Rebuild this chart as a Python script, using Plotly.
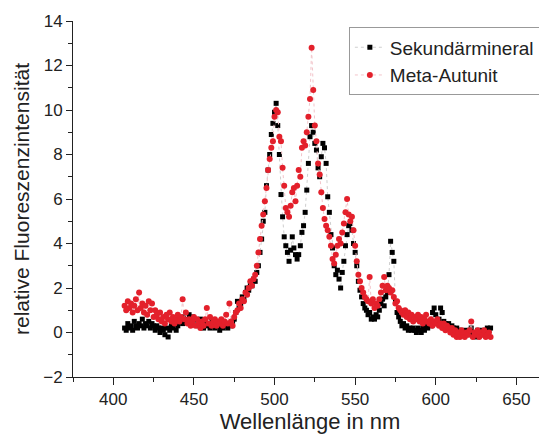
import plotly.graph_objects as go

# Wavelength grid (nm)
wavelength = [
    407, 408, 409, 410, 411, 412, 413, 414, 415, 416,
    417, 418, 419, 420, 421, 422, 423, 424, 425, 426,
    427, 428, 429, 430, 431, 432, 433, 434, 435, 436,
    437, 438, 439, 440, 441, 442, 443, 444, 445, 446,
    447, 448, 449, 450, 451, 452, 453, 454, 455, 456,
    457, 458, 459, 460, 461, 462, 463, 464, 465, 466,
    467, 468, 469, 470, 471, 472, 473, 474, 475, 476,
    477, 478, 479, 480, 481, 482, 483, 484, 485, 486,
    487, 488, 489, 490, 491, 492, 493, 494, 495, 496,
    497, 498, 499, 500, 501, 502, 503, 504, 505, 506,
    507, 508, 509, 510, 511, 512, 513, 514, 515, 516,
    517, 518, 519, 520, 521, 522, 523, 524, 525, 526,
    527, 528, 529, 530, 531, 532, 533, 534, 535, 536,
    537, 538, 539, 540, 541, 542, 543, 544, 545, 546,
    547, 548, 549, 550, 551, 552, 553, 554, 555, 556,
    557, 558, 559, 560, 561, 562, 563, 564, 565, 566,
    567, 568, 569, 570, 571, 572, 573, 574, 575, 576,
    577, 578, 579, 580, 581, 582, 583, 584, 585, 586,
    587, 588, 589, 590, 591, 592, 593, 594, 595, 596,
    597, 598, 599, 600, 601, 602, 603, 604, 605, 606,
    607, 608, 609, 610, 611, 612, 613, 614, 615, 616,
    617, 618, 619, 620, 621, 622, 623, 624, 625, 626,
    627, 628, 629, 630, 631, 632, 633, 634,
]

sekundaermineral = [
    0.2, 0.1, 0.4, 0.2, 0.3, 0.1, 0.5, 0.3, 0.2, 0.4,
    0.3, 0.6, 0.2, 0.4, 0.3, 0.5, 0.2, 0.4, 0.3, 0.1,
    0.3, 0.2, 0.0, 0.2, 0.1, -0.1, 0.2, -0.2, 0.1, 0.3,
    0.2, 0.4, 0.1, 0.3, 0.5, 0.6, 0.4, 0.7, 0.5, 0.6,
    0.8, 0.5, 0.7, 0.6, 0.4, 0.5, 0.3, 0.6, 0.4, 0.2,
    0.5, 0.3, 0.4, 0.2, 0.5, 0.3, 0.2, 0.4, 0.3, 0.1,
    0.3, 0.2, 0.4, 0.3, 0.2, 0.4, 0.3, 0.5, 0.6, 0.9,
    1.4, 1.1, 1.3, 1.6, 1.5, 1.8, 2.0, 1.9, 2.2, 2.1,
    2.4, 2.3, 2.7, 3.0, 3.6, 4.2, 5.0, 5.4, 6.6, 7.3,
    8.0, 8.9, 9.4, 9.9, 10.3, 9.3, 8.0, 6.2, 5.2, 4.3,
    3.9, 3.6, 3.2, 3.7, 4.3, 3.8, 3.5, 3.3, 3.5, 3.9,
    4.5, 4.8, 5.4, 6.4, 7.6, 8.8, 9.3, 9.0, 8.5, 8.2,
    7.4, 7.0, 7.9, 8.5, 8.3, 7.6, 6.1, 5.4, 4.4, 3.8,
    3.0, 2.6, 2.8, 2.4, 2.0, 2.7, 3.2, 3.9, 4.4, 4.8,
    4.9, 4.6, 4.0, 3.6, 3.0, 2.3, 1.9, 1.6, 1.3, 1.1,
    1.0, 0.8, 0.9, 0.6, 0.7, 0.6, 0.8, 0.7, 1.0, 1.3,
    1.5, 1.2, 1.6, 1.8, 2.6, 4.1, 3.6, 3.2, 1.4, 0.9,
    0.7, 0.5, 0.3, 0.4, 0.2, 0.3, 0.1, 0.2, 0.1, 0.2,
    0.1, 0.0, 0.2, 0.1, 0.0, 0.2, 0.1, 0.3, 0.2, 0.4,
    0.3, 0.9, 1.1, 0.8, 0.5, 0.6, 1.1, 0.9, 0.5, 0.4,
    0.3, 0.4, 0.2, 0.3, 0.2, 0.1, 0.2, 0.1, 0.0, 0.1,
    -0.1, 0.0, 0.1, -0.1, 0.0, 0.2, -0.1, 0.0, -0.2, 0.1,
    0.0, -0.1, 0.1, 0.0, -0.1, 0.2, 0.1, 0.2,
]

meta_autunit = [
    1.2, 1.0, 1.4, 1.1, 1.3, 0.9, 1.2, 1.5, 1.0, 1.8,
    1.1, 1.3, 0.9, 1.2, 0.8, 1.4, 1.0, 1.3, 0.7, 1.0,
    0.8, 0.6, 0.9, 0.5, 0.7, 0.4, 0.8, 0.6, 0.9, 0.5,
    0.7, 0.4, 0.6, 0.8, 0.5, 0.7, 1.5, 0.6, 0.9, 0.4,
    0.6, 0.3, 0.5, 0.7, 0.3, 0.6, 0.4, 0.2, 0.5, 0.3,
    0.6, 1.1, 0.4, 0.7, 0.3, 0.5, 0.6, 0.3, 0.5, 0.4,
    0.6, 0.3, 0.5, 0.8, 0.4, 1.3, 0.5, 0.3, 0.7, 0.9,
    1.0, 1.3, 1.1, 1.5, 1.4, 1.8, 1.7, 2.0, 2.3, 2.1,
    2.4, 2.6, 3.0, 3.6, 4.2, 4.8, 5.3, 5.9, 6.5, 7.3,
    7.8, 8.3, 8.6, 9.7, 10.0, 9.9, 8.8, 8.6, 7.4, 6.6,
    5.6, 5.4, 5.2, 5.7, 6.3, 6.5, 5.9, 6.6, 7.3, 7.0,
    8.3, 8.6, 8.4, 9.0, 9.7, 10.5, 12.8, 10.9, 9.3, 8.6,
    7.6, 7.1, 6.3, 5.6, 5.1, 4.8, 4.6, 4.3, 3.9, 3.3,
    3.1, 3.5, 3.9, 4.2, 4.0, 4.5, 4.9, 5.4, 6.0, 5.3,
    5.0, 5.2, 4.6, 3.9, 3.2, 2.6, 2.3, 2.0, 1.8, 1.6,
    1.5, 1.4, 2.5, 1.3, 1.5, 1.1, 1.3, 1.2, 1.5, 1.8,
    2.1, 2.5, 1.9, 2.1, 2.0, 1.8, 1.9, 1.6, 1.3, 1.4,
    1.1, 1.0, 0.9, 0.8, 1.0, 0.7, 0.9, 0.6, 0.8, 0.5,
    0.7, 0.6, 0.8, 0.5, 0.7, 0.4, 0.6, 0.8, 0.5, 0.4,
    0.6, 0.3, 0.5, 0.4, 0.6, 0.3, 0.4, 0.2, 0.4, 0.1,
    0.3, 0.2, 0.0, 0.2, -0.1, 0.1, -0.2, 0.0, -0.2, 0.1,
    -0.1, -0.2, 0.0, -0.1, 0.1, 0.5, -0.2, 0.0, -0.1, 0.1,
    -0.2, 0.0, -0.1, 0.1, -0.2, -0.1, 0.0, -0.2,
]

FONT = "Liberation Sans, Arial, sans-serif"

fig = go.Figure()
fig.add_trace(go.Scatter(
    x=wavelength, y=sekundaermineral, name="Sekundärmineral",
    mode="lines+markers",
    line=dict(color="#cfcfcf", width=1, dash="dot"),
    marker=dict(symbol="square", size=5, color="#000000"),
))
fig.add_trace(go.Scatter(
    x=wavelength, y=meta_autunit, name="Meta-Autunit",
    mode="lines+markers",
    line=dict(color="#f3c4ca", width=1, dash="dot"),
    marker=dict(symbol="circle", size=6, color="#e3202b"),
))

fig.update_layout(
    width=539, height=431,
    margin=dict(l=65, r=0, t=13, b=62),
    paper_bgcolor="white", plot_bgcolor="white",
    font=dict(family=FONT, color="#222222", size=16),
    showlegend=True,
    legend=dict(
        x=0.582, y=0.982, xanchor="left", yanchor="top",
        bgcolor="white", bordercolor="#999999", borderwidth=1,
        font=dict(size=19, color="#222222"),
        itemwidth=30, tracegroupgap=0,
    ),
    xaxis=dict(
        range=[375, 669], tick0=400, dtick=50,
        showline=True, linecolor="#222222", linewidth=1,
        ticks="outside", ticklen=7, tickcolor="#222222",
        minor=dict(dtick=25, ticks="outside", ticklen=4, tickcolor="#222222"),
        showgrid=False, zeroline=False,
        tickfont=dict(size=17),
        title=dict(text="Wellenlänge in nm", font=dict(size=22), standoff=4),
    ),
    yaxis=dict(
        range=[-2, 14], tick0=0, dtick=2,
        showline=True, linecolor="#222222", linewidth=1,
        ticks="outside", ticklen=6, tickcolor="#222222",
        minor=dict(dtick=1, ticks="outside", ticklen=4, tickcolor="#222222"),
        showgrid=False, zeroline=False,
        tickfont=dict(size=17),
        title=dict(text="relative Fluoreszenzintensität", font=dict(size=21), standoff=7),
    ),
)

fig.write_html("out.html")
